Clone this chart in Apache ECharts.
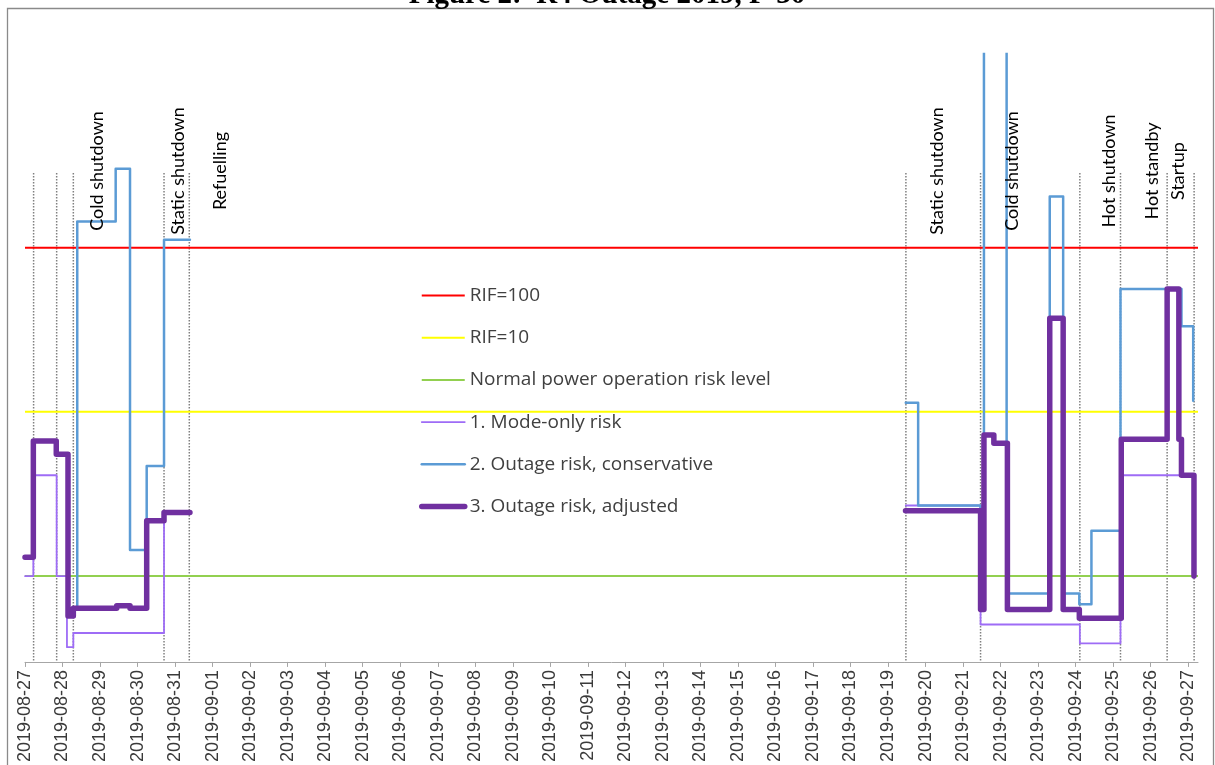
<!DOCTYPE html>
<html>
<head>
<meta charset="utf-8">
<title>Outage risk 2019</title>
<script src="https://cdn.jsdelivr.net/npm/echarts@6/dist/echarts.min.js"></script>
<style>
  html, body { margin: 0; padding: 0; background: #ffffff; }
  #chart { width: 1215px; height: 765px; }
</style>
</head>
<body>
<div id="chart"></div>
<script>
// ---- Data -------------------------------------------------------------
const chartTitle = 'Figure 2:  R4 Outage 2019, F-30';

// Reference levels (RIF scale, normal power operation = 1)
const rif100 = 100;
const rif10 = 10;
const normalLevel = 1;

// Step series: [start time of step, RIF value]; '-' ends a period
const modeOnlyRisk = [
  ['2019-08-27 00:00', 1.0], ['2019-08-27 05:20', 4.11], ['2019-08-27 20:15', 1.0],
  ['2019-08-28 02:50', 0.369], ['2019-08-28 06:55', 0.450], ['2019-08-30 16:55', 2.44],
  ['2019-08-31 09:30', 2.44], ['2019-08-31 09:30', '-'],
  ['2019-09-19 11:20', 2.69], ['2019-09-21 11:10', 0.507], ['2019-09-24 02:40', 0.389],
  ['2019-09-25 04:40', 4.11], ['2019-09-27 03:40', 1.0]
];

const outageConservative = [
  ['2019-08-27 00:00', 1.30], ['2019-08-27 05:20', 6.64], ['2019-08-27 20:00', 5.51],
  ['2019-08-28 03:30', 0.571], ['2019-08-28 06:55', 0.636], ['2019-08-28 09:25', 144.5],
  ['2019-08-29 10:00', 302], ['2019-08-29 19:10', 1.44], ['2019-08-30 05:50', 4.68],
  ['2019-08-30 16:55', 111.9], ['2019-08-31 09:30', 111.9], ['2019-08-31 09:30', '-'],
  ['2019-09-19 11:20', 11.36], ['2019-09-19 19:15', 2.69], ['2019-09-21 11:10', 0.626],
  ['2019-09-21 13:20', 5000], ['2019-09-22 03:50', 0.784], ['2019-09-23 07:25', 205],
  ['2019-09-23 16:00', 0.784], ['2019-09-24 02:20', 0.673], ['2019-09-24 10:05', 1.89],
  ['2019-09-25 04:40', 55.9], ['2019-09-26 19:40', 33.2], ['2019-09-27 03:10', 11.68]
];

const outageAdjusted = [
  ['2019-08-27 00:00', 1.30], ['2019-08-27 05:20', 6.64], ['2019-08-27 20:00', 5.51],
  ['2019-08-28 03:30', 0.571], ['2019-08-28 06:55', 0.636], ['2019-08-29 10:40', 0.660],
  ['2019-08-29 19:10', 0.636], ['2019-08-30 05:50', 2.17], ['2019-08-30 16:55', 2.44],
  ['2019-08-31 09:30', 2.44], ['2019-08-31 09:30', '-'],
  ['2019-09-19 11:10', 2.50], ['2019-09-21 11:10', 0.626], ['2019-09-21 13:20', 7.23],
  ['2019-09-21 19:40', 6.45], ['2019-09-22 04:20', 0.626], ['2019-09-23 07:25', 37.2],
  ['2019-09-23 16:00', 0.626], ['2019-09-24 02:20', 0.553], ['2019-09-25 05:10', 6.82],
  ['2019-09-26 10:30', 55.9], ['2019-09-26 18:00', 6.82], ['2019-09-26 19:40', 4.11],
  ['2019-09-27 03:40', 1.0]
];

// Plant operating mode changes (dotted markers)
const modeChanges = [
  '2019-08-27 05:30', '2019-08-27 20:15', '2019-08-28 06:55', '2019-08-30 16:55',
  '2019-08-31 09:05', '2019-09-19 11:25', '2019-09-21 11:10', '2019-09-24 02:40',
  '2019-09-25 04:40', '2019-09-26 10:30', '2019-09-27 03:45'
];

// Operating mode names and where they are written along the time axis
const modeNames = [
  'Cold shutdown', 'Static shutdown', 'Refuelling', 'Static shutdown',
  'Cold shutdown', 'Hot shutdown', 'Hot standby', 'Startup'
];
const modeNameAt = [
  '2019-08-28 22:00', '2019-08-31 01:50', '2019-09-01 04:40', '2019-09-20 07:10',
  '2019-09-22 07:10', '2019-09-24 21:10', '2019-09-26 00:40', '2019-09-26 17:20'
];

const seriesNames = [
  'RIF=100', 'RIF=10', 'Normal power operation risk level',
  '1. Mode-only risk', '2. Outage risk, conservative', '3. Outage risk, adjusted'
];

// ---- Helpers ----------------------------------------------------------
const DAY = 86400000;
function toMs(s) {
  const parts = s.split(' ');
  const d = parts[0].split('-').map(Number);
  const t = (parts[1] || '00:00').split(':').map(Number);
  return Date.UTC(d[0], d[1] - 1, d[2], t[0], t[1]);
}
function stepData(arr) {
  return arr.map(p => [toMs(p[0]), p[1]]);
}

const xMin = toMs('2019-08-27');
const xMax = xMin + 31.26 * DAY;
const yMin = 0.3;
const yMax = 1511;

const dayTicks = [];
for (let v = xMin; v <= xMax; v += DAY) dayTicks.push(v);

function levelLine(name, value, color) {
  return {
    name: name, type: 'line', symbol: 'none', silent: true,
    data: [[xMin, value], [xMax, value]],
    lineStyle: { color: color, width: 2 },
    itemStyle: { color: color },
    z: 2
  };
}

function riskLine(name, arr, color, width, z) {
  return {
    name: name, type: 'line', step: 'end', symbol: 'none', silent: true,
    connectNulls: false, clip: true,
    data: stepData(arr),
    lineStyle: { color: color, width: width, cap: 'round', join: 'round' },
    itemStyle: { color: color },
    z: z
  };
}

// ---- Chart ------------------------------------------------------------
const chart = echarts.init(document.getElementById('chart'), null, { renderer: 'canvas' });

const option = {
  animation: false,
  backgroundColor: '#ffffff',
  graphic: [
    {
      type: 'rect', silent: true, z: -10,
      shape: { x: 7.5, y: 8.5, width: 1206, height: 800 },
      style: { fill: 'none', stroke: '#8a8a8a', lineWidth: 1.3 }
    },
    {
      type: 'text', silent: true, x: 607, y: 10,
      style: {
        text: chartTitle, fill: '#000000',
        font: 'bold 29px "Liberation Serif", "Times New Roman", serif',
        align: 'center', verticalAlign: 'bottom'
      }
    }
  ],
  grid: { left: 25, right: 17, top: 54, bottom: 102, containLabel: false },
  legend: {
    orient: 'vertical', left: 419, top: 286, padding: 0,
    itemWidth: 43, itemHeight: 14, itemGap: 23.2,
    selectedMode: false,
    data: seriesNames,
    lineStyle: { width: 'inherit' },
    itemStyle: { color: 'rgba(0,0,0,0)', borderWidth: 0, opacity: 0 },
    textStyle: { fontFamily: '"Open Sans", sans-serif', fontSize: 19, color: '#404040', lineHeight: 17 }
  },
  xAxis: {
    type: 'value', min: xMin, max: xMax, interval: DAY,
    axisLine: { show: true, lineStyle: { color: '#a6a6a6', width: 1 } },
    axisTick: { show: true, inside: false, length: 5, customValues: dayTicks,
      lineStyle: { color: '#a6a6a6' } },
    splitLine: { show: false },
    axisLabel: {
      rotate: 90, margin: 8, customValues: dayTicks,
      fontFamily: '"Liberation Sans", Arial, sans-serif', fontSize: 18, color: '#3a3a3a',
      formatter: function (v) {
        if (v % DAY !== 0) return '';
        return new Date(v).toISOString().slice(0, 10);
      }
    }
  },
  yAxis: {
    type: 'log', logBase: 10, min: yMin, max: yMax, show: false,
    splitLine: { show: false }
  },
  series: [
    levelLine(seriesNames[0], rif100, '#ff0000'),
    levelLine(seriesNames[1], rif10, '#ffff00'),
    levelLine(seriesNames[2], normalLevel, '#92d050'),
    riskLine(seriesNames[3], modeOnlyRisk, '#9e6cf6', 1.8, 3),
    riskLine(seriesNames[4], outageConservative, '#5b9bd5', 2.5, 4),
    riskLine(seriesNames[5], outageAdjusted, '#7030a0', 5.5, 5),
    {
      // dotted markers at each operating mode change
      name: 'modeChange', type: 'custom', silent: true, z: 1,
      data: modeChanges.map(t => [toMs(t), normalLevel]),
      renderItem: function (params, api) {
        const x = api.coord([api.value(0), normalLevel])[0];
        const cs = params.coordSys;
        return {
          type: 'line',
          shape: { x1: x, y1: cs.y + 119, x2: x, y2: cs.y + cs.height },
          style: { stroke: '#808080', lineWidth: 1.5, lineDash: [1.5, 1.5] }
        };
      }
    },
    {
      // operating mode names, written upward
      name: 'modeName', type: 'custom', silent: true, z: 6,
      data: modeNameAt.map(t => [toMs(t), normalLevel]),
      renderItem: function (params, api) {
        const x = api.coord([api.value(0), normalLevel])[0];
        const cs = params.coordSys;
        return {
          type: 'text',
          x: x, y: cs.y + 117, rotation: Math.PI / 2,
          style: {
            text: modeNames[params.dataIndex], fill: '#000000',
            font: '18px Lato, "Open Sans", sans-serif',
            align: 'center', verticalAlign: 'middle'
          }
        };
      }
    }
  ]
};

chart.setOption(option);
</script>
</body>
</html>
